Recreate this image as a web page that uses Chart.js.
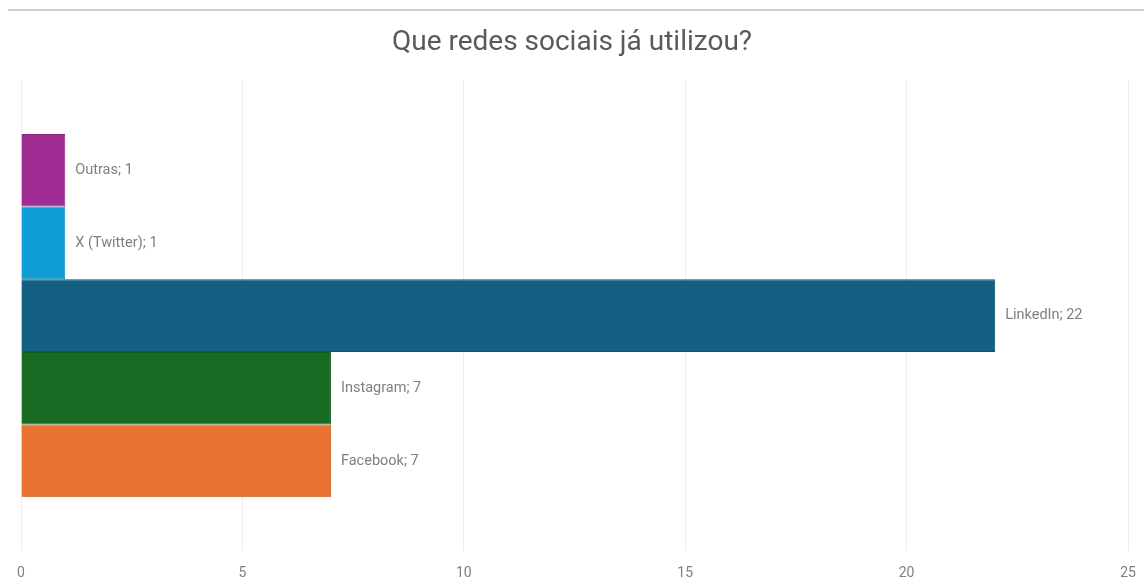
<!DOCTYPE html>
<html>
<head>
<meta charset="utf-8">
<script src="https://cdn.jsdelivr.net/npm/chart.js@4/dist/chart.umd.min.js"></script>
<style>
    body { margin: 0; background: #ffffff; }
    #wrap { width: 1144px; height: 586px; }
</style>
</head>
<body>
<div id="wrap"><canvas id="myChart" width="1144" height="586"></canvas></div>
<script>
// Networks, top to bottom as drawn
const networks = ['Outras', 'X (Twitter)', 'LinkedIn', 'Instagram', 'Facebook'];
const answers = [1, 1, 22, 7, 7];
const barColors = ['#A02B93', '#0F9ED5', '#156082', '#196B24', '#E97132'];
const edgeColors = ['#8a2480', '#0d88b8', '#11506c', '#145a1e', '#c9612a'];
const xTicks = [0, 5, 10, 15, 20, 25];

const titleText = 'Que redes sociais já utilizou?';
const fontName = 'Roboto, "Noto Sans", sans-serif';

// Build one dataset per network so the bars sit next to each other
const datasets = networks.map((name, i) => {
    return {
        label: name,
        data: [answers[i]],
        backgroundColor: barColors[i],
        borderColor: edgeColors[i],
        borderWidth: 1,
        barPercentage: 1,
        categoryPercentage: 0.771
    };
});

// Draws the top rule, the title and the "name; value" labels
const decorations = {
    id: 'decorations',
    beforeDraw(chart) {
        const ctx = chart.ctx;
        ctx.save();
        ctx.strokeStyle = '#bfbfbf';
        ctx.lineWidth = 1.5;
        ctx.beginPath();
        ctx.moveTo(8, 10);
        ctx.lineTo(chart.width, 10);
        ctx.stroke();

        ctx.fillStyle = '#595959';
        ctx.font = '28px ' + fontName;
        ctx.textAlign = 'center';
        ctx.textBaseline = 'middle';
        ctx.fillText(titleText, chart.width / 2, 43);
        ctx.restore();
    },
    afterDatasetsDraw(chart) {
        const ctx = chart.ctx;
        ctx.save();
        ctx.fillStyle = '#7f7f7f';
        ctx.font = '14.5px ' + fontName;
        ctx.textAlign = 'left';
        ctx.textBaseline = 'middle';
        chart.data.datasets.forEach((ds, i) => {
            const bar = chart.getDatasetMeta(i).data[0];
            ctx.fillText(ds.label + '; ' + ds.data[0], bar.x + 10, bar.y);
        });
        ctx.restore();
    }
};

const ctx = document.getElementById('myChart').getContext('2d');
const myChart = new Chart(ctx, {
    type: 'bar',
    data: {
        labels: [''],
        datasets: datasets
    },
    options: {
        indexAxis: 'y',
        responsive: false,
        animation: false,
        layout: {
            padding: { left: 21, right: 16, top: 80, bottom: -10 }
        },
        plugins: {
            legend: { display: false },
            title: { display: false },
            tooltip: { enabled: false }
        },
        scales: {
            x: {
                min: xTicks[0],
                max: xTicks[xTicks.length - 1],
                afterBuildTicks: (scale) => {
                    scale.ticks = xTicks.map(v => ({ value: v }));
                },
                // keep the end labels from squeezing the plot sideways
                afterFit: (scale) => {
                    scale.paddingLeft = 0;
                    scale.paddingRight = 0;
                },
                grid: { color: '#ececec', drawTicks: false },
                border: { display: false },
                ticks: {
                    color: '#7f7f7f',
                    font: { size: 14, family: fontName },
                    padding: 14
                }
            },
            y: {
                display: false
            }
        }
    },
    plugins: [decorations]
});
</script>
</body>
</html>
